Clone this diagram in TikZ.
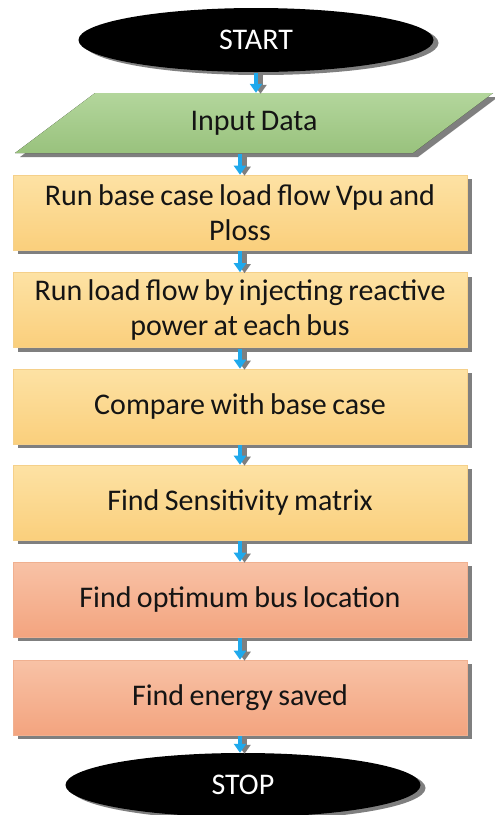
\documentclass[tikz,border=0pt]{standalone}
\usepackage{fontspec}
\setmainfont{Carlito}[WordSpace=0.8]
\usetikzlibrary{shapes.geometric,shadows,arrows.meta}
\definecolor{txt}{HTML}{141414}
\definecolor{ytop}{HTML}{FDE2A4}
\definecolor{ybot}{HTML}{FACF7C}
\definecolor{yedge}{HTML}{F5D08A}
\definecolor{stop}{HTML}{F8C2A6}
\definecolor{sbot}{HTML}{F3A47F}
\definecolor{sedge}{HTML}{F0B090}
\definecolor{gtop}{HTML}{B3D69C}
\definecolor{gbot}{HTML}{99C27D}
\definecolor{arrblue}{HTML}{1FA9EC}
\definecolor{shad}{HTML}{7F7F7F}
\tikzset{
  txtfont/.style={font=\fontsize{30}{35}\selectfont, text=txt},
  procbox/.style={txtfont, rectangle, minimum width=454pt, minimum height=75pt,
    align=center, inner sep=0pt,
    drop shadow={shadow xshift=5pt, shadow yshift=-4pt, fill=shad, opacity=1}},
  yellowbox/.style={procbox, top color=ytop, bottom color=ybot, draw=yedge, line width=0.6pt},
  salmonbox/.style={procbox, top color=stop, bottom color=sbot, draw=sedge, line width=0.6pt},
  terminal/.style={ellipse, fill=black, text=white, font=\fontsize{30}{32}\selectfont,
    minimum width=355pt, minimum height=64pt, inner sep=0pt,
    drop shadow={shadow xshift=5pt, shadow yshift=-3pt, fill=shad, opacity=1}},
  flowarrow/.style={draw=arrblue, line width=4.5pt, -{Triangle[width=12pt,length=9pt]}, shorten <=1pt, shorten >=0pt},
  flowshadow/.style={draw=shad, line width=4.5pt, -{Triangle[width=12pt,length=9pt]}, shorten <=1pt, shorten >=0pt},
}
\begin{document}
\begin{tikzpicture}[x=1pt,y=-1pt]
\useasboundingbox[fill=white] (0,0) rectangle (495,815);
% START
\node[terminal] (start) at (256,40) {START};
% Input data parallelogram
\fill[shad] (20,157) -- (100,97) -- (498,97) -- (418,157) -- cycle;
\fill[top color=gtop, bottom color=gbot] (15,153) -- (95,93) -- (493,93) -- (413,153) -- cycle;
\node[txtfont, minimum width=318pt, minimum height=60pt, inner sep=0pt] (inp) at (254,123) {Input Data};
% process boxes
\node[yellowbox] (b1) at (240,212.5) {Run base case load flow Vpu and\\Ploss};
\node[yellowbox] (b2) at (240,310) {Run load flow by injecting reactive\\power at each bus};
\node[yellowbox] (b3) at (240,406.5) {Compare with base case};
\node[yellowbox] (b4) at (240,502.5) {Find Sensitivity matrix};
\node[salmonbox] (b5) at (240,599.5) {Find optimum bus location};
\node[salmonbox] (b6) at (240,697.5) {Find energy saved};
\node[terminal] (stop) at (243,785) {STOP};
% arrows (shadow then blue)
\begin{scope}[transform canvas={xshift=4.5pt,yshift=-1pt}]
\draw[flowshadow] (start.south) -- (start.south |- inp.north);
\draw[flowshadow] (inp.south -| b1.north) -- (b1.north);
\draw[flowshadow] (b1.south) -- (b2.north);
\draw[flowshadow] (b2.south) -- (b3.north);
\draw[flowshadow] (b3.south) -- (b4.north);
\draw[flowshadow] (b4.south) -- (b5.north);
\draw[flowshadow] (b5.south) -- (b6.north);
\draw[flowshadow] (b6.south) -- (b6.south |- stop.north);
\end{scope}
\draw[flowarrow] (start.south) -- (start.south |- inp.north);
\draw[flowarrow] (inp.south -| b1.north) -- (b1.north);
\draw[flowarrow] (b1.south) -- (b2.north);
\draw[flowarrow] (b2.south) -- (b3.north);
\draw[flowarrow] (b3.south) -- (b4.north);
\draw[flowarrow] (b4.south) -- (b5.north);
\draw[flowarrow] (b5.south) -- (b6.north);
\draw[flowarrow] (b6.south) -- (b6.south |- stop.north);
\end{tikzpicture}
\end{document}
